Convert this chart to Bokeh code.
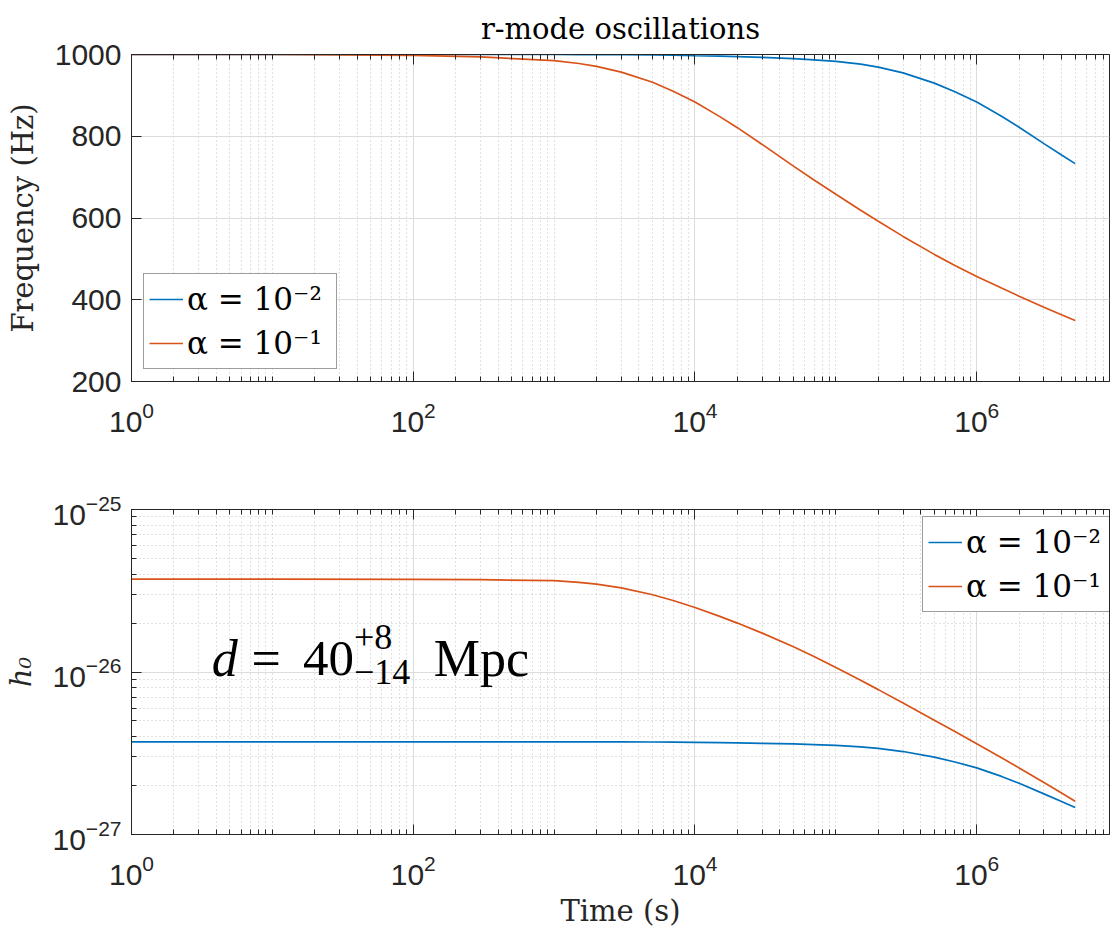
from bokeh.plotting import figure
from bokeh.models import (FixedTicker, LogAxis, Legend, LegendItem, Label, Range1d,
                          CustomJSTickFormatter)
from bokeh.layouts import column
from bokeh.embed import file_html
from bokeh.resources import INLINE

# ---------------- data ----------------
time_s = [1, 10, 100, 300, 1e3, 1.5e3, 2e3, 3e3, 5e3, 7e3, 1e4, 1.5e4, 2e4, 3e4, 5e4,
          7e4, 1e5, 1.5e5, 2e5, 3e5, 5e5, 7e5, 1e6, 1.5e6, 2e6, 3e6, 4e6, 5e6]
freq_a2 = [1000, 1000, 1000, 1000, 1000, 999.9, 999.8, 999.6, 999, 998.2, 997, 996,
           995, 993, 990, 987, 983, 976.5, 969, 955, 930, 909, 884, 849, 822, 782,
           754, 733]
freq_a1 = [1000, 1000, 998, 994, 985, 978, 971, 957, 932, 910, 884, 848, 821, 780, 727,
           693, 658, 619, 592, 555, 511, 484, 457, 428.5, 408.7, 381.8, 363.3, 349.2]
h0_a2 = [3.72e-27, 3.72e-27, 3.72e-27, 3.72e-27, 3.72e-27, 3.72e-27, 3.718e-27,
         3.716e-27, 3.709e-27, 3.700e-27, 3.687e-27, 3.675e-27, 3.664e-27, 3.642e-27,
         3.610e-27, 3.577e-27, 3.534e-27, 3.464e-27, 3.385e-27, 3.240e-27, 2.992e-27,
         2.794e-27, 2.570e-27, 2.277e-27, 2.066e-27, 1.779e-27, 1.595e-27, 1.465e-27]
h0_a1 = [3.73e-26, 3.73e-26, 3.72e-26, 3.70e-26, 3.65e-26, 3.562e-26, 3.470e-26,
         3.291e-26, 2.987e-26, 2.756e-26, 2.494e-26, 2.199e-26, 2.000e-26, 1.735e-26,
         1.429e-26, 1.245e-26, 1.067e-26, 8.89e-27, 7.79e-27, 6.44e-27, 5.05e-27,
         4.30e-27, 3.617e-27, 2.966e-27, 2.568e-27, 2.089e-27, 1.800e-27, 1.603e-27]
series_labels = ["α = 10⁻²", "α = 10⁻¹"]

x_major = [1, 1e2, 1e4, 1e6]
x_minor = [k * 10.0 ** n for n in range(0, 7) for k in range(1, 10)
           if not (k == 1 and n % 2 == 0)]
y1_major = [200, 400, 600, 800, 1000]
y2_major = [1e-27, 1e-26, 1e-25]
y2_minor = [k * 10.0 ** n for n in (-27, -26) for k in range(2, 10)]

SERIF = "DejaVu Serif"
SANS = "Liberation Sans"
INK = "#262626"
BLUE = "#0072BD"
ORANGE = "#D95319"
GRID = "#dcdcdc"
MINOR = "#c4c4c4"


def style_axis(ax, standoff):
    ax.axis_line_color = INK
    ax.major_tick_line_color = INK
    ax.minor_tick_line_color = INK
    ax.major_tick_in = 10
    ax.major_tick_out = 0
    ax.minor_tick_in = 5
    ax.minor_tick_out = 0
    ax.major_label_text_font = SANS
    ax.major_label_text_font_size = "30px"
    ax.major_label_text_color = INK
    ax.major_label_standoff = standoff
    ax.axis_label_text_font = SERIF
    ax.axis_label_text_font_size = "29px"
    ax.axis_label_text_font_style = "normal"
    ax.axis_label_text_color = INK


def add_top_axis(p, ticker):
    top = LogAxis(ticker=ticker, formatter=CustomJSTickFormatter(code="return ''"),
                  major_label_text_font_size="0px", major_label_standoff=0,
                  axis_line_color=INK, major_tick_line_color=INK,
                  minor_tick_line_color=INK, major_tick_in=10, major_tick_out=0,
                  minor_tick_in=5, minor_tick_out=0)
    p.add_layout(top, "above")


def make_legend(renderers, loc):
    items = [LegendItem(label=lab, renderers=[r]) for lab, r in zip(series_labels, renderers)]
    return Legend(items=items, location=loc, label_text_font=SERIF,
                  label_text_font_size="31px", label_text_color="black",
                  glyph_width=34, glyph_height=30, label_standoff=4, padding=5,
                  spacing=4, label_width=144, label_height=40, margin=0,
                  border_line_color="#3c3c3c", border_line_width=1,
                  background_fill_color="white", background_fill_alpha=1)


X_END = 8.76e6

# ---------------- top: frequency ----------------
xt1 = FixedTicker(ticks=x_major, minor_ticks=x_minor)
p1 = figure(width=1110, height=458, x_axis_type="log",
            x_range=Range1d(1, X_END), y_range=Range1d(200, 1000),
            output_backend="svg", toolbar_location=None,
            min_border_left=122, min_border_right=1,
            min_border_top=53, min_border_bottom=77)
p1.title.text = "r-mode oscillations"
p1.title.align = "center"
p1.title.text_font = SERIF
p1.title.text_font_size = "29px"
p1.title.text_font_style = "normal"
p1.title.text_color = "black"
p1.title.standoff = 18
p1.outline_line_color = INK
p1.outline_line_alpha = 1

p1.xaxis.ticker = xt1
p1.xgrid.ticker = xt1
p1.yaxis.ticker = FixedTicker(ticks=y1_major)
p1.yaxis.axis_label = "Frequency (Hz)"
style_axis(p1.xaxis[0], 20)
style_axis(p1.yaxis[0], 10)
p1.yaxis.axis_label_standoff = 12
p1.xgrid.grid_line_color = GRID
p1.xgrid.minor_grid_line_color = MINOR
p1.xgrid.minor_grid_line_dash = "1 3"
p1.ygrid.grid_line_color = GRID
add_top_axis(p1, xt1)

b1 = p1.line(time_s, freq_a2, line_color=BLUE, line_width=1.7)
o1 = p1.line(time_s, freq_a1, line_color=ORANGE, line_width=1.7)
p1.add_layout(make_legend([b1, o1], (12, 12)))

# ---------------- bottom: strain ----------------
xt2 = FixedTicker(ticks=x_major, minor_ticks=x_minor)
yt2 = FixedTicker(ticks=y2_major, minor_ticks=y2_minor)
p2 = figure(width=1110, height=472, x_axis_type="log", y_axis_type="log",
            x_range=Range1d(1, X_END), y_range=Range1d(1e-27, 1e-25),
            output_backend="svg", toolbar_location=None,
            min_border_left=122, min_border_right=1,
            min_border_top=51, min_border_bottom=92)
p2.outline_line_color = INK
p2.outline_line_alpha = 1
p2.xaxis.ticker = xt2
p2.xgrid.ticker = xt2
p2.yaxis.ticker = yt2
p2.ygrid.ticker = yt2
p2.xaxis.axis_label = "Time (s)"
p2.yaxis.axis_label = "h₀"
style_axis(p2.xaxis[0], 20)
style_axis(p2.yaxis[0], 10)
p2.yaxis.axis_label_text_font_style = "italic"
p2.yaxis.axis_label_standoff = 12
p2.xaxis.axis_label_standoff = 6
for g in (p2.xgrid, p2.ygrid):
    g.grid_line_color = GRID
    g.minor_grid_line_color = MINOR
    g.minor_grid_line_dash = "1 3"
add_top_axis(p2, xt2)

b2 = p2.line(time_s, h0_a2, line_color=BLUE, line_width=1.7)
o2 = p2.line(time_s, h0_a1, line_color=ORANGE, line_width=1.7)
p2.add_layout(make_legend([b2, o2], (791, 222)))

# annotation d = 40^{+8}_{-14} Mpc
ann = dict(text_font="Liberation Serif", text_color="black", text_baseline="alphabetic",
           text_align="left")
p2.add_layout(Label(x=3.71, y=1.208e-26, text="d", text_font_size="52px",
                    text_font_style="italic", **ann))
p2.add_layout(Label(x=7.1, y=1.208e-26, text="=", text_font_size="52px", **ann))
p2.add_layout(Label(x=16.5, y=1.208e-26, text="40", text_font_size="51px", **ann))
p2.add_layout(Label(x=38.0, y=1.643e-26, text="+8", text_font_size="36px", **ann))
p2.add_layout(Label(x=38.0, y=1.007e-26, text="−14", text_font_size="36px", **ann))
p2.add_layout(Label(x=140.0, y=1.208e-26, text="Mpc", text_font_size="52px", **ann))

layout = column(p1, p2)
open("out.html", "w").write(file_html(layout, INLINE))
